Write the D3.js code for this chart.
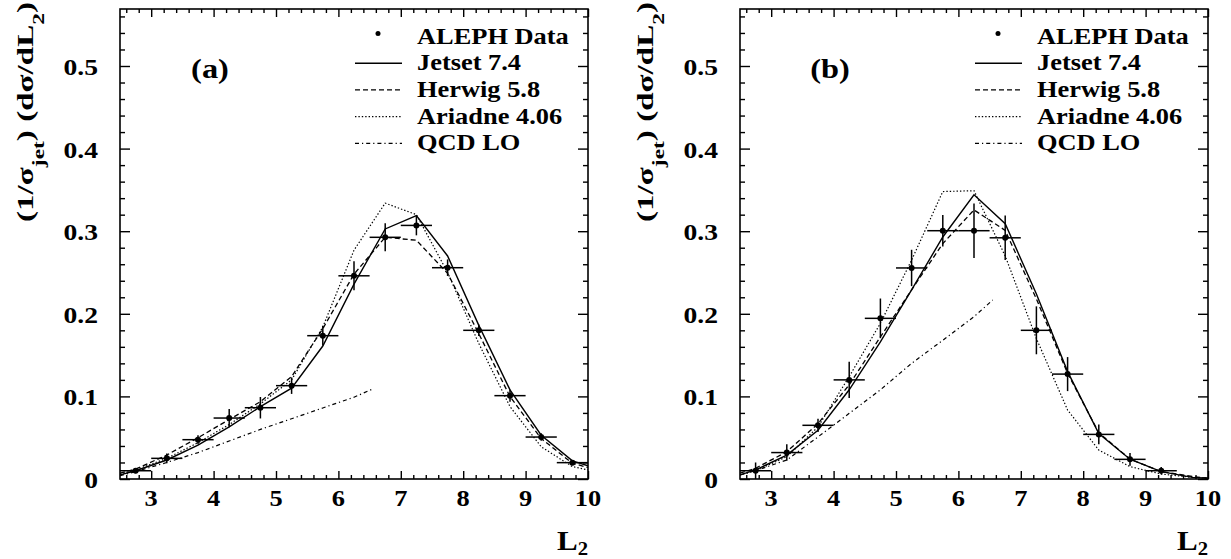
<!DOCTYPE html>
<html><head><meta charset="utf-8">
<script src="https://cdn.jsdelivr.net/npm/d3@7"></script>
<style>
body{margin:0;background:#fff}
svg{display:block}
text{font-family:"Liberation Serif","Times New Roman",serif;font-weight:bold;fill:#000}
</style>
</head><body>
<svg id="c" width="1231" height="559"></svg>
<script>
// ---------------- data ----------------
const binCenters = [2.75,3.25,3.75,4.25,4.75,5.25,5.75,6.25,6.75,7.25,7.75,8.25,8.75,9.25,9.75];
const curveX = [2.5,2.75,3.25,3.75,4.25,4.75,5.25,5.75,6.25,6.75,7.25,7.75,8.25,8.75,9.25,9.75,10];
const qcdX = [2.5,2.75,3.25,3.75,4.25,4.75,5.25,5.75,6.25,6.55];
const xTickValues = [3,4,5,6,7,8,9,10];
const xTickLabels = ["3","4","5","6","7","8","9","10"];
const yTickValues = [0,0.1,0.2,0.3,0.4,0.5];
const yTickLabels = ["0","0.1","0.2","0.3","0.4","0.5"];
const legendLabels = ["ALEPH Data","Jetset 7.4","Herwig 5.8","Ariadne 4.06","QCD LO"];
const panelLabels = ["(a)","(b)"];

// panel (a)
const dataA = [0.010,0.025,0.0476,0.0738,0.0863,0.113,0.1735,0.246,0.2926,0.307,0.2558,0.180,0.1009,0.0508,0.0198];
const errA  = [0.003,0.006,0.0055,0.011,0.013,0.010,0.012,0.0175,0.017,0.012,0.010,0.007,0.0075,0.0045,0.003];
const jetsetA  = [0.005,0.010,0.023,0.041,0.063,0.0876,0.110,0.161,0.236,0.3027,0.319,0.270,0.186,0.108,0.053,0.022,0.016];
const herwigA  = [0.007,0.012,0.029,0.050,0.072,0.0936,0.124,0.182,0.248,0.2926,0.289,0.249,0.176,0.0997,0.049,0.019,0.014];
const ariadneA = [0.006,0.011,0.025,0.044,0.066,0.091,0.120,0.184,0.277,0.334,0.320,0.250,0.164,0.0876,0.039,0.015,0.011];
const qcdA = [0.004,0.009,0.020,0.032,0.046,0.060,0.073,0.086,0.099,0.109];

// panel (b)
const dataB = [0.010,0.032,0.065,0.120,0.1945,0.2555,0.3006,0.3006,0.292,0.180,0.127,0.054,0.0238,0.010];
const errB  = [0.010,0.010,0.008,0.022,0.024,0.022,0.019,0.033,0.027,0.029,0.0206,0.012,0.0077,0.0044];
const jetsetB  = [0.005,0.011,0.029,0.059,0.108,0.166,0.229,0.293,0.344,0.309,0.224,0.130,0.055,0.024,0.009,0.002,0.001];
const herwigB  = [0.007,0.013,0.033,0.067,0.114,0.172,0.229,0.285,0.3257,0.301,0.218,0.128,0.056,0.024,0.009,0.003,0.001];
const ariadneB = [0.005,0.010,0.027,0.063,0.124,0.1885,0.265,0.348,0.349,0.270,0.170,0.0835,0.035,0.015,0.006,0.002,0.001];
const qcdB = [0.005,0.010,0.023,0.051,0.0795,0.108,0.140,0.168,0.1965,0.2167];

// ---------------- layout ----------------
const W = 468, TOP = 9, BOTTOM = 479;
const panels = [
  {x0:120, label:panelLabels[0], data:dataA, err:errA, jetset:jetsetA, herwig:herwigA, ariadne:ariadneA, qcd:qcdA},
  {x0:740, label:panelLabels[1], data:dataB, err:errB, jetset:jetsetB, herwig:herwigB, ariadne:ariadneB, qcd:qcdB}
];
const styles = {
  jetset:  {dash:null,        w:1.4},
  herwig:  {dash:"5,3",       w:1.3},
  ariadne: {dash:"1.4,2",     w:1.2},
  qcd:     {dash:"4,3,1.2,3", w:1.2}
};

const svg = d3.select("#c");

function addText(g, str, x, y, size, sx, anchor){
  return g.append("text").text(str)
    .attr("text-anchor", anchor)
    .style("font-size", size + "px")
    .attr("transform", `translate(${x},${y}) scale(${sx},1)`);
}

panels.forEach(p => {
  const g = svg.append("g");
  const x = d3.scaleLinear().domain([2.5,10]).range([p.x0, p.x0 + W]);
  const y = d3.scaleLinear().domain([0,0.569]).range([BOTTOM, TOP]);

  const minorX = d3.range(2.6, 10.001, 0.2).map(v => +v.toFixed(2)).filter(v => Math.abs(v - Math.round(v)) > 1e-6);
  const minorY = d3.range(0.02, 0.569, 0.02).map(v => +v.toFixed(2)).filter(v => Math.abs(v*10 - Math.round(v*10)) > 1e-6);

  const axStyle = s => { s.select(".domain").remove(); s.selectAll("line").attr("stroke","#000").attr("stroke-width",1.4); s.selectAll("text").remove(); };

  // bottom
  g.append("g").attr("transform",`translate(0,${BOTTOM})`).call(d3.axisBottom(x).tickValues(xTickValues).tickSize(-8)).call(axStyle);
  g.append("g").attr("transform",`translate(0,${BOTTOM})`).call(d3.axisBottom(x).tickValues(minorX).tickSize(-4)).call(axStyle);
  // top
  g.append("g").attr("transform",`translate(0,${TOP})`).call(d3.axisTop(x).tickValues(xTickValues).tickSize(-8)).call(axStyle);
  g.append("g").attr("transform",`translate(0,${TOP})`).call(d3.axisTop(x).tickValues(minorX).tickSize(-4)).call(axStyle);
  // left
  g.append("g").attr("transform",`translate(${p.x0},0)`).call(d3.axisLeft(y).tickValues(yTickValues).tickSize(-10)).call(axStyle);
  g.append("g").attr("transform",`translate(${p.x0},0)`).call(d3.axisLeft(y).tickValues(minorY).tickSize(-5)).call(axStyle);
  // right
  g.append("g").attr("transform",`translate(${p.x0+W},0)`).call(d3.axisRight(y).tickValues(yTickValues).tickSize(-10)).call(axStyle);
  g.append("g").attr("transform",`translate(${p.x0+W},0)`).call(d3.axisRight(y).tickValues(minorY).tickSize(-5)).call(axStyle);

  // frame
  g.append("rect").attr("x",p.x0).attr("y",TOP).attr("width",W).attr("height",BOTTOM-TOP)
    .attr("fill","none").attr("stroke","#000").attr("stroke-width",1.6);

  // tick labels
  xTickValues.forEach((v,i) => addText(g, xTickLabels[i], x(v), 506, 24, 1.1, "middle"));
  yTickValues.forEach((v,i) => addText(g, yTickLabels[i], p.x0 - 22, y(v) + 9, 23, 1.2, "end"));

  // axis titles
  const xt = g.append("text").attr("text-anchor","end").style("font-size","27px")
    .attr("transform",`translate(${p.x0+W},550) scale(1.15,1)`);
  xt.append("tspan").text("L");
  xt.append("tspan").text("2").style("font-size","18px").attr("dy",5);

  const yt = g.append("text").attr("text-anchor","end").style("font-size","24px");
  yt.append("tspan").text("(1/σ");
  yt.append("tspan").text("jet").style("font-size","17px").attr("dy",11);
  yt.append("tspan").text(") (dσ/dL").attr("dy",-11);
  yt.append("tspan").text("2").style("font-size","17px").attr("dy",11);
  yt.append("tspan").text(")").attr("dy",-11);
  const len = yt.node().getComputedTextLength();
  yt.attr("transform",`translate(${p.x0-87},2) rotate(-90) scale(${220/len},1)`);

  // curves
  const clip = "clip" + p.x0;
  svg.append("clipPath").attr("id",clip).append("rect").attr("x",p.x0).attr("y",TOP).attr("width",W).attr("height",BOTTOM-TOP);
  const line = d3.line().x(d => x(d[0])).y(d => y(d[1]));
  const plot = g.append("g").attr("clip-path",`url(#${clip})`);
  [["jetset",curveX],["herwig",curveX],["ariadne",curveX],["qcd",qcdX]].forEach(([k,xs]) => {
    plot.append("path").datum(xs.map((xv,i) => [xv, p[k][i]]))
      .attr("d", line).attr("fill","none").attr("stroke","#000")
      .attr("stroke-width", styles[k].w).attr("stroke-dasharray", styles[k].dash);
  });

  // data points with error bars
  const pts = p.data.map((v,i) => ({x:binCenters[i], y:v, e:p.err[i]}));
  const eb = plot.append("g").attr("stroke","#000").attr("stroke-width",1.5);
  eb.selectAll(".h").data(pts).join("line")
    .attr("x1", d => x(d.x - 0.25)).attr("x2", d => x(d.x + 0.25))
    .attr("y1", d => y(d.y)).attr("y2", d => y(d.y));
  eb.selectAll(".v").data(pts).join("line")
    .attr("x1", d => x(d.x)).attr("x2", d => x(d.x))
    .attr("y1", d => y(d.y - d.e)).attr("y2", d => y(d.y + d.e));
  plot.append("g").selectAll("circle").data(pts).join("circle")
    .attr("cx", d => x(d.x)).attr("cy", d => y(d.y)).attr("r", 3).attr("fill","#000");

  // panel label
  addText(g, p.label, p.x0 + 90, 78, 27, 1.2, "middle");

  // legend
  const lx = p.x0 + 235, tx = p.x0 + 297;
  const base = [43.5, 70.2, 96.9, 123.6, 150.3];
  const lg = g.append("g");
  lg.append("circle").attr("cx", p.x0 + 258).attr("cy", base[0] - 10).attr("r", 2.5).attr("fill","#000");
  ["jetset","herwig","ariadne","qcd"].forEach((k,i) => {
    lg.append("line").attr("x1",lx).attr("x2",lx+47).attr("y1",base[i+1]-7).attr("y2",base[i+1]-7)
      .attr("stroke","#000").attr("stroke-width",styles[k].w).attr("stroke-dasharray",styles[k].dash);
  });
  legendLabels.forEach((s,i) => addText(lg, s, tx, base[i], 24, 1.1, "start"));
});
</script>
</body></html>
